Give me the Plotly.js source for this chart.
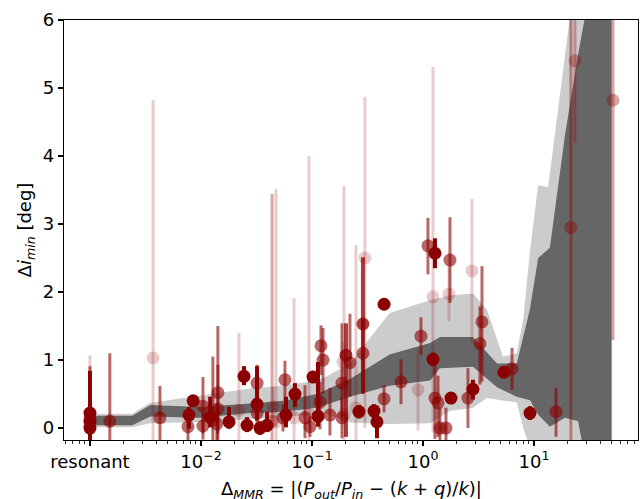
<!DOCTYPE html>
<html>
<head>
<meta charset="utf-8">
<script src="https://cdn.plot.ly/plotly-3.0.1.min.js"></script>
<style>
  html, body { margin: 0; padding: 0; background: #fff; }
  #chart { width: 640px; height: 499px; }
</style>
</head>
<body>
<div id="chart"></div>
<script>
// Spread of minimum mutual inclination vs. distance from mean-motion resonance.

// Outer (light) band: x positions, lower and upper envelope [deg]
const lightX  = [0.001, 0.0024, 0.0035, 0.0098, 0.0276, 0.055, 0.111, 0.136, 0.22, 0.50, 1.16, 1.75, 2.82, 3.77, 4.64, 5.26, 7.0, 8.0, 9.2, 10.9, 13.4, 21.0, 30.0, 50.0];
const lightLo = [0.01, 0.01, 0.07, 0.09, 0.13, 0.16, 0.20, 0.21, 0.08, 0.06, 0.07, 0.25, 0.30, 0.44, 0.42, 0.40, 0.38, 0.0, -0.3, -0.3, -0.3, -0.3, -0.6, -1.0];
const lightHi = [0.21, 0.21, 0.37, 0.47, 0.58, 0.62, 0.70, 0.76, 0.95, 1.69, 1.88, 1.95, 1.98, 1.74, 1.30, 1.05, 1.10, 1.6, 2.6, 3.57, 3.54, 6.0, 8.0, 8.0];

// Inner (dark) band
const darkX  = [0.001, 0.0024, 0.0035, 0.0098, 0.0276, 0.055, 0.111, 0.22, 0.50, 1.16, 1.42, 2.82, 4.64, 7.0, 9.2, 10.9, 13.9, 19.0, 25.0, 30.0, 50.0];
const darkLo = [0.04, 0.04, 0.17, 0.15, 0.22, 0.24, 0.30, 0.46, 0.62, 0.70, 0.88, 0.90, 0.60, 0.46, 0.41, 0.20, 0.02, 0.15, 0.10, -0.6, -1.0];
const darkHi = [0.18, 0.18, 0.34, 0.31, 0.36, 0.40, 0.50, 0.72, 1.08, 1.25, 1.34, 1.34, 0.95, 0.95, 1.75, 2.5, 2.65, 4.3, 5.5, 6.2, 8.0];

// Individual systems: Delta_MMR, Delta i_min, upper/lower uncertainty, opacity
const ptX = [
  0.001, 0.001, 0.001, 0.0078, 0.0085, 0.0121, 0.0179, 0.0244, 0.0260, 0.0340, 0.0320, 0.0394, 0.0583, 0.0703, 0.1021, 0.1132, 0.2649, 0.362, 0.385, 0.446, 1.230, 1.282, 1.787, 2.818, 5.37, 9.21,
  0.2024, 0.2877,
  0.001, 0.00151, 0.00427, 0.00764, 0.01042, 0.01042, 0.0142, 0.0142, 0.0139, 0.0128, 0.0320, 0.0320, 0.0571, 0.0548, 0.0865, 0.0959, 0.1205, 0.1257, 0.1181, 0.1452, 0.1863, 0.1863, 0.2198, 0.2877, 0.446, 0.634, 0.959, 1.109, 1.282, 1.365, 1.422, 1.611, 1.750, 2.542, 3.26, 3.40, 6.34, 15.8,
  21.5, 0.0437, 51.5, 23.4,
  0.001, 0.0037, 0.0220, 0.0474, 0.0446, 0.0689, 0.0940, 0.1942, 0.1902, 0.2490, 0.2999, 0.902, 1.230, 1.714, 2.761
];
const ptY = [
  0.22, 0.00, 0.10, 0.19, 0.40, 0.16, 0.09, 0.76, 0.04, 0.00, 0.35, 0.04, 0.19, 0.50, 0.75, 0.17, 0.24, 0.25, 0.09, 1.82, 1.01, 2.57, 0.44, 0.57, 0.82, 0.22,
  1.07, 1.53,
  0.15, 0.10, 0.15, 0.02, 0.32, 0.03, 0.52, 0.28, 0.06, 0.12, 0.66, 0.22, 0.71, 0.15, 0.15, 0.02, 1.21, 1.00, 0.38, 0.19, 0.66, 0.15, 0.96, 1.10, 0.43, 0.68, 1.35, 2.68, 0.44, 0.37, 0.00, 0.00, 2.47, 0.44, 1.24, 1.56, 0.87, 0.24,
  2.95, 0.10, 4.82, 5.40,
  0.05, 1.03, 0.26, 0.09, 0.31, 0.15, 0.20, 0.20, 0.97, 0.30, 2.50, 0.56, 1.93, 1.97, 2.31
];
const ptUp = [
  0.62, 0.35, 0.30, 0.12, 0.05, 0.30, 0.22, 0.15, 0.12, 0.10, 0.56, 0.20, 0.27, 0.16, 0.09, 0.80, 0.10, 0.10, 0.24, 0.05, 0.10, 0.22, 0.05, 0.14, 0.05, 0.10,
  0.47, 0.98,
  0.76, 1.00, 0.47, 0.20, 0.43, 0.20, 0.98, 0.65, 0.30, 0.93, 0.27, 0.20, 0.28, 0.20, 0.48, 0.15, 0.30, 0.47, 0.30, 0.40, 0.88, 0.30, 0.72, 0.50, 0.20, 0.33, 0.28, 0.41, 0.50, 0.40, 0.30, 0.30, 0.63, 0.44, 0.55, 0.82, 0.31, 0.35,
  4.00, 3.34, 2.00, 1.20,
  1.02, 3.79, 1.14, 3.42, 0.30, 1.76, 3.80, 3.36, 0.30, 2.39, 2.37, 0.60, 3.38, 0.40, 1.06
];
const ptDn = [
  0.42, 0.35, 0.30, 0.20, 0.05, 0.15, 0.10, 0.13, 0.10, 0.10, 0.24, 0.10, 0.18, 0.19, 0.08, 0.15, 0.10, 0.10, 0.24, 0.05, 0.10, 0.22, 0.05, 0.15, 0.05, 0.10,
  1.20, 1.02,
  0.50, 0.50, 0.40, 0.20, 0.40, 0.20, 0.60, 0.50, 0.30, 0.30, 0.30, 0.30, 0.30, 0.20, 0.30, 0.15, 0.43, 0.50, 0.40, 0.30, 0.50, 0.30, 0.50, 0.60, 0.20, 0.33, 0.28, 0.42, 0.60, 0.50, 0.30, 0.30, 0.63, 0.44, 0.60, 0.88, 0.31, 0.37,
  4.00, 0.40, 3.53, 1.21,
  0.50, 1.50, 0.50, 0.40, 0.30, 0.50, 0.50, 0.50, 0.30, 0.50, 2.50, 0.60, 2.00, 0.40, 1.06
];
const ptAlpha = [].concat(
  Array(26).fill(1.0),
  Array(2).fill(0.75),
  Array(38).fill(0.6),
  [0.4, 0.35, 0.35, 0.3],
  Array(15).fill(0.2)
);

// Axis ticks
const xTickVals = [0.001, 0.01, 0.1, 1, 10];
const xTickText = ['resonant', '10<sup>\u22122</sup>', '10<sup>\u22121</sup>', '10<sup>0</sup>', '10<sup>1</sup>'];
const yTickVals = [0, 1, 2, 3, 4, 5, 6];

const minorVals = [];
for (let e = -4; e <= 1; e++) {
  for (let m = 2; m <= 9; m++) minorVals.push(m * Math.pow(10, e));
}

function polygon(x, lo, hi) {
  return {
    x: x.concat(x.slice().reverse()),
    y: hi.concat(lo.slice().reverse())
  };
}

const traces = [];
const pl = polygon(lightX, lightLo, lightHi);
traces.push({
  x: pl.x, y: pl.y, type: 'scatter', mode: 'lines', fill: 'toself',
  fillcolor: '#cccccc', line: { width: 0 }, hoverinfo: 'skip', showlegend: false
});
const pd = polygon(darkX, darkLo, darkHi);
traces.push({
  x: pd.x, y: pd.y, type: 'scatter', mode: 'lines', fill: 'toself',
  fillcolor: '#666666', line: { width: 0 }, hoverinfo: 'skip', showlegend: false
});

// one scatter trace per opacity level, faintest drawn first
const levels = Array.from(new Set(ptAlpha)).sort((a, b) => a - b);
levels.forEach(a => {
  const idx = ptAlpha.map((v, i) => v === a ? i : -1).filter(i => i >= 0);
  const col = 'rgba(139,0,0,' + a + ')';
  traces.push({
    type: 'scatter', mode: 'markers',
    x: idx.map(i => ptX[i]), y: idx.map(i => ptY[i]),
    marker: { size: 13, color: col, line: { width: 0 } },
    error_y: {
      type: 'data', symmetric: false,
      array: idx.map(i => ptUp[i]), arrayminus: idx.map(i => ptDn[i]),
      color: col, thickness: a >= 0.75 ? 4 : 3, width: 0
    },
    showlegend: false
  });
});

const tickFont = { family: 'DejaVu Sans', size: 18, color: '#000' };

const layout = {
  width: 640, height: 499,
  margin: { l: 64, r: 2, t: 20, b: 59 },
  paper_bgcolor: '#fff', plot_bgcolor: '#fff',
  font: { family: 'DejaVu Sans', size: 18, color: '#000' },
  showlegend: false,
  xaxis: {
    type: 'log', range: [-3.234, 1.937],
    tickmode: 'array', tickvals: xTickVals, ticktext: xTickText,
    ticks: 'outside', ticklen: 5, tickwidth: 1.1, tickcolor: '#000',
    tickfont: tickFont,
    minor: { tickmode: 'array', tickvals: minorVals, ticks: 'outside', ticklen: 3, tickwidth: 0.8, tickcolor: '#000', showgrid: false },
    showline: true, mirror: true, linecolor: '#000', linewidth: 1.1,
    showgrid: false, zeroline: false
  },
  yaxis: {
    range: [-0.176, 6],
    tickmode: 'array', tickvals: yTickVals,
    ticks: 'outside', ticklen: 5, tickwidth: 1.1, tickcolor: '#000',
    tickfont: tickFont,
    showline: true, mirror: true, linecolor: '#000', linewidth: 1.1,
    showgrid: false, zeroline: false,
    title: {
      text: '\u0394<i>i</i><sub><i>min</i></sub> [deg]',
      font: { family: 'DejaVu Sans', size: 18, color: '#000' }, standoff: 6
    }
  },
  // x-axis label sits low, partly below the figure edge
  annotations: [{
    text: '\u0394<sub><i>MMR</i></sub> = |(<i>P</i><sub><i>out</i></sub>/<i>P</i><sub><i>in</i></sub> \u2212 (<i>k</i> + <i>q</i>)/<i>k</i>)|',
    xref: 'paper', yref: 'paper', x: 0.5, y: -0.119,
    xanchor: 'center', yanchor: 'middle', showarrow: false,
    font: { family: 'DejaVu Sans', size: 18, color: '#000' }
  }]
};

Plotly.newPlot('chart', traces, layout, { staticPlot: true, displayModeBar: false });
</script>
</body>
</html>
